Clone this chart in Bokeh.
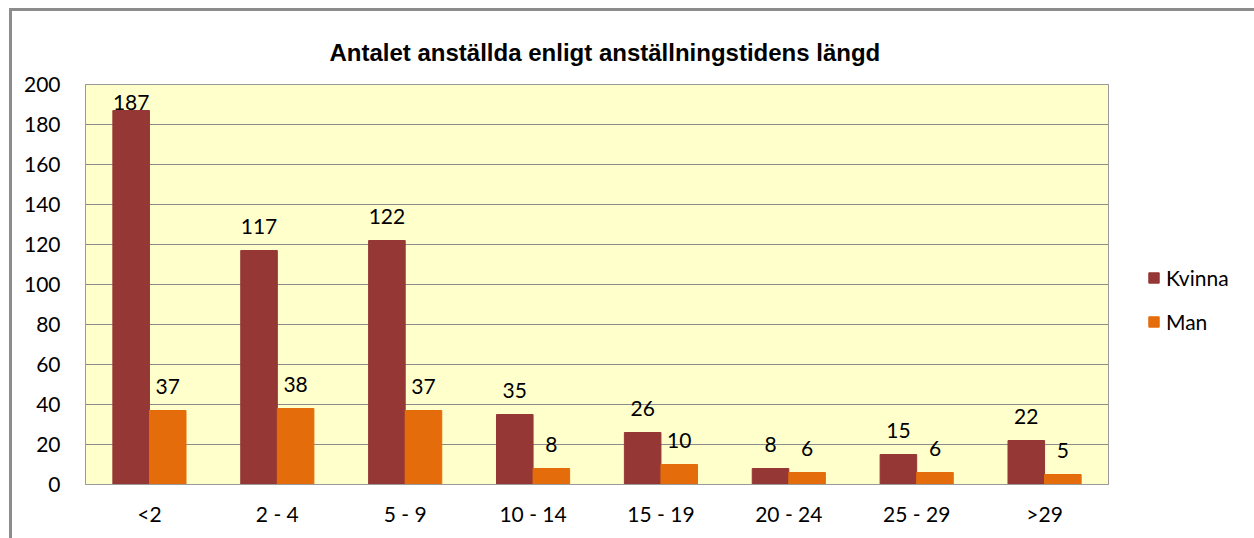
from bokeh.plotting import figure
from bokeh.models import ColumnDataSource, Range1d, FixedTicker, Legend, LegendItem
from bokeh.transform import dodge
from bokeh.core.properties import value
from bokeh.embed import file_html
from bokeh.resources import INLINE

categories = ["<2", "2 - 4", "5 - 9", "10 - 14", "15 - 19", "20 - 24", "25 - 29", ">29"]
kvinna = [187, 117, 122, 35, 26, 8, 15, 22]
man = [37, 38, 37, 8, 10, 6, 6, 5]
y_ticks = [0, 20, 40, 60, 80, 100, 120, 140, 160, 180, 200]
title_text = "Antalet anställda enligt anställningstidens längd"

# layout (pixels)
W_PX, H_PX = 1254, 538
FRAME_L, FRAME_T, FRAME_B = 84, 83, 485
PLOT_AREA_PX = 1023          # width of the yellow plot area
N = len(categories)
UNIT = PLOT_AREA_PX / N      # px per category
X_START = -1 / UNIT
X_END = X_START + (W_PX - FRAME_L) / UNIT
Y_MAX = 200

LABEL_GAP = 12   # data units between bar top and label centre
LABEL_CAP = Y_MAX - 9

xc = [i + 0.5 for i in range(N)]
src = ColumnDataSource(dict(
    xc=xc,
    kvinna=kvinna,
    man=man,
    k_lab=[min(v + LABEL_GAP, LABEL_CAP) for v in kvinna],
    m_lab=[min(v + LABEL_GAP, LABEL_CAP) for v in man],
    k_txt=[str(v) for v in kvinna],
    m_txt=[str(v) for v in man],
))

p = figure(x_range=Range1d(X_START, X_END), y_range=Range1d(-0.5, Y_MAX + 0.5),
           width=W_PX, height=H_PX, output_backend="svg", toolbar_location=None,
           min_border_left=FRAME_L, min_border_right=0, min_border_top=FRAME_T,
           min_border_bottom=H_PX - FRAME_B)

p.background_fill_color = "white"
p.border_fill_color = None
p.outline_line_color = None
# outer chart border (top and left edges; the rest lies outside the window)
p.styles = {
    "background-color": "white",
    "background-image": "linear-gradient(#8c8c8c, #8c8c8c), linear-gradient(#8c8c8c, #8c8c8c)",
    "background-repeat": "no-repeat",
    "background-size": "3px 100%, 100% 3px",
    "background-position": "9px 8px, 9px 8px",
}

# plot area
p.quad(left=0, right=N, bottom=0, top=Y_MAX, fill_color="#FFFFCC", line_color=None)
p.segment(x0=[0] * len(y_ticks), x1=[N] * len(y_ticks), y0=y_ticks, y1=y_ticks,
          line_color="#8c8c8c", line_width=1)

W = 0.286
OFF = 0.143
rk = p.vbar(x=dodge("xc", -OFF), top="kvinna", width=W, source=src,
            fill_color="#953735", line_color="#953735")
rm = p.vbar(x=dodge("xc", OFF), top="man", width=W, source=src,
            fill_color="#E46C0A", line_color="#E46C0A")

p.quad(left=0, right=N, bottom=0, top=Y_MAX, fill_color=None, line_color="#9a9a9a",
       line_width=1)

p.text(x=dodge("xc", -OFF), y="k_lab", text="k_txt", source=src,
       text_align="center", text_baseline="middle", text_font=value("Lato"),
       text_font_size="21px", text_color="#000000")
p.text(x=dodge("xc", OFF), y="m_lab", text="m_txt", source=src,
       text_align="center", text_baseline="middle", text_font=value("Lato"),
       text_font_size="21px", text_color="#000000")

p.title.text = title_text
p.title.text_font = "Liberation Sans"
p.title.text_font_style = "bold"
p.title.text_font_size = "24px"
p.title.text_color = "#000000"
p.title.align = "left"
p.title.offset = 245
p.title.standoff = 36

p.xgrid.grid_line_color = None
p.ygrid.grid_line_color = None

p.yaxis.ticker = FixedTicker(ticks=y_ticks)
p.xaxis.ticker = FixedTicker(ticks=xc)
p.xaxis.major_label_overrides = {x: c for x, c in zip(xc, categories)}
for ax in (p.xaxis[0], p.yaxis[0]):
    ax.axis_line_color = None
    ax.major_tick_line_color = None
    ax.minor_tick_line_color = None
    ax.major_label_text_font = "Lato"
    ax.major_label_text_font_size = "21px"
    ax.major_label_text_color = "#000000"
p.yaxis.major_label_standoff = 18
p.xaxis.major_label_standoff = 9

legend = Legend(items=[LegendItem(label="Kvinna", renderers=[rk]),
                       LegendItem(label="Man", renderers=[rm])],
                location=(1063, 151), orientation="vertical",
                border_line_color=None, background_fill_alpha=0,
                padding=0, margin=0, spacing=19, glyph_width=13, glyph_height=13,
                label_height=22, label_standoff=6,
                label_text_font="Lato", label_text_font_size="21px", label_text_color="#000000")
p.add_layout(legend)

open("out.html", "w").write(file_html(p, INLINE))
